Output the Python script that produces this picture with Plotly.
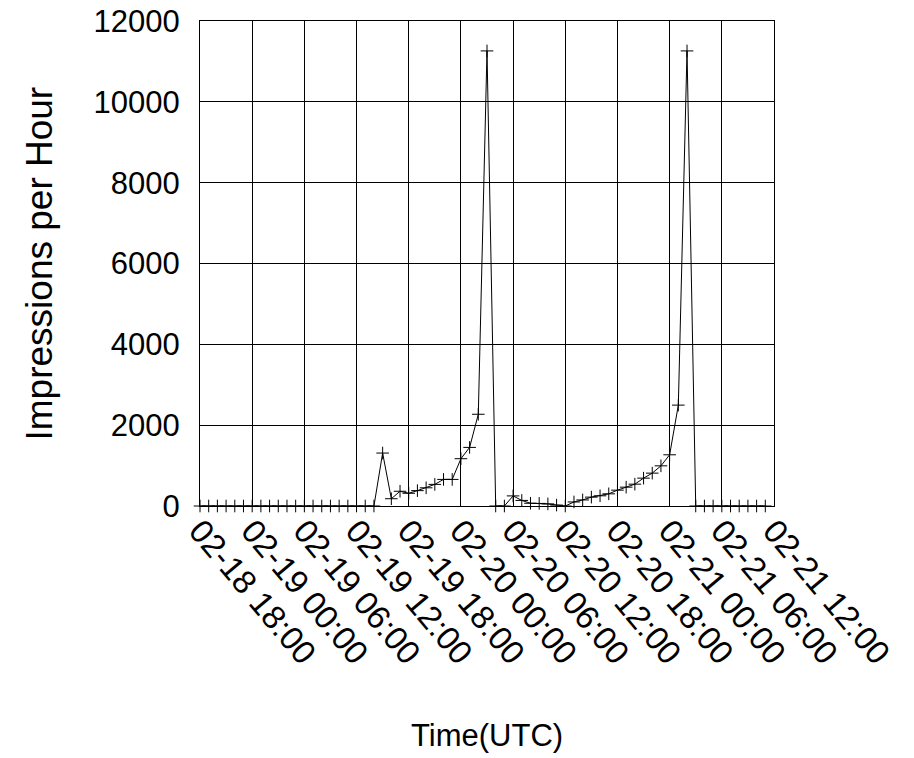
import pandas as pd
import plotly.graph_objects as go

# Hourly impressions, 02-18 18:00 .. 02-21 11:00 (UTC)
start_time = "2021-02-18 18:00"
impressions = [
    0, 0, 0, 0, 0, 0,            # 02-18 18..23
    0, 0, 0, 0, 0, 0,            # 02-19 00..05
    0, 0, 0, 0, 0, 0,            # 02-19 06..11
    0, 0, 0, 1310, 180, 365,     # 02-19 12..17
    315, 380, 450, 535, 658, 658,  # 02-19 18..23
    1170, 1450, 2270, 11260, 0, 0,  # 02-20 00..05
    250, 138, 68, 64, 52, 23,    # 02-20 06..11
    0, 100, 150, 220, 252, 301,  # 02-20 12..17
    392, 466, 540, 689, 813, 994,  # 02-20 18..23
    1267, 2496, 11260, 0, 0, 0,  # 02-21 00..05
    0, 0, 0, 0, 0, 0,            # 02-21 06..11
]
times = pd.date_range(start_time, periods=len(impressions), freq="h")

tick_times = pd.date_range(start_time, "2021-02-21 12:00", freq="6h")
tick_labels = [t.strftime("%m-%d %H:%M") for t in tick_times]
y_ticks = [0, 2000, 4000, 6000, 8000, 10000, 12000]
y_tick_labels = [str(v) for v in y_ticks]

FONT = "Liberation Sans, Arial, sans-serif"

fig = go.Figure()
fig.add_trace(go.Scatter(
    x=times, y=impressions, mode="lines+markers",
    line=dict(color="black", width=1),
    marker=dict(symbol="cross-thin", size=9, color="black",
                line=dict(color="black", width=1)),
    cliponaxis=False, showlegend=False,
))

fig.update_layout(
    width=914, height=758,
    margin=dict(l=200, r=140, t=21, b=252),
    plot_bgcolor="white", paper_bgcolor="white",
    font=dict(family=FONT, color="black", size=30),
    xaxis=dict(
        range=[tick_times[0], tick_times[-1]],
        tickvals=list(tick_times), ticktext=tick_labels,
        tickangle=50, tickfont=dict(size=33, family=FONT),
        showgrid=True, gridcolor="black", gridwidth=1,
        showline=True, linecolor="black", linewidth=1, mirror=True,
        ticks="", zeroline=False, ticklabelstandoff=-9, automargin=False,
        ticklabeloverflow="allow",
    ),
    yaxis=dict(
        range=[0, 12000], tickvals=y_ticks, ticktext=y_tick_labels,
        tickfont=dict(size=31, family=FONT),
        showgrid=True, gridcolor="black", gridwidth=1,
        showline=True, linecolor="black", linewidth=1, mirror=True,
        ticks="", zeroline=False, ticklabelstandoff=13, automargin=False,
        ticklabeloverflow="allow",
    ),
    annotations=[
        dict(text="Impressions per Hour", textangle=-90, xref="paper", yref="paper",
             x=(39 - 200) / 574, y=0.5, xanchor="center", yanchor="middle",
             showarrow=False, font=dict(size=37, family=FONT)),
        dict(text="Time(UTC)", xref="paper", yref="paper",
             x=0.5, y=(506 - 735) / 485, xanchor="center", yanchor="middle",
             showarrow=False, font=dict(size=31, family=FONT)),
    ],
)

fig.write_html(
    "out.html",
    config={"displayModeBar": False},
    post_script="document.body.style.margin='0';document.body.style.overflow='hidden';",
)
